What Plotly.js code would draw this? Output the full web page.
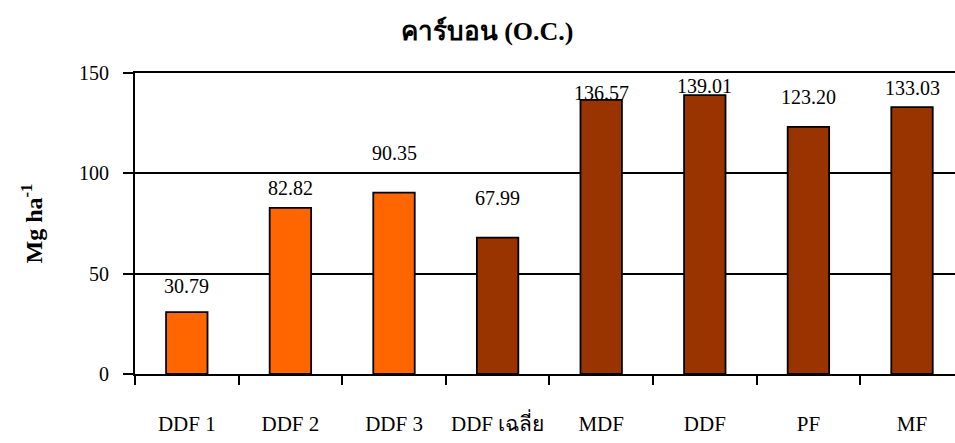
<!DOCTYPE html>
<html>
<head>
<meta charset="utf-8">
<script src="https://cdn.plot.ly/plotly-3.0.1.min.js"></script>
<style>html,body{margin:0;padding:0;background:#fff;}#chart{width:955px;height:443px;}</style>
</head>
<body>
<div id="chart"></div>
<script>
// ---- data ----
const categories = ["DDF 1", "DDF 2", "DDF 3", "DDF เฉลี่ย", "MDF", "DDF", "PF", "MF"];
const values = [30.79, 82.82, 90.35, 67.99, 136.57, 139.01, 123.20, 133.03];
const valueLabels = ["30.79", "82.82", "90.35", "67.99", "136.57", "139.01", "123.20", "133.03"];
const groups = ["DDF", "DDF", "DDF", "avg", "avg", "avg", "avg", "avg"];
const yTicks = [0, 50, 100, 150];

// ---- styles ----
const groupColor = {DDF: "#FF6600", avg: "#993300"};
const labelShift = [26, 20, 40, 40, 7, 9, 30, 19]; // px above bar top (label layout)
const serif = "'Liberation Serif', 'Times New Roman', serif";

const trace = {
  type: "bar",
  x: categories,
  y: values,
  width: 0.4,
  marker: {color: groups.map(g => groupColor[g]), line: {color: "#000", width: 1.8}},
  hoverinfo: "x+y"
};

const annotations = categories.map((c, i) => ({
  x: c, y: values[i], xref: "x", yref: "y",
  text: valueLabels[i], showarrow: false,
  yanchor: "middle", yshift: labelShift[i],
  font: {family: serif, size: 20, color: "#000"}
}));

const layout = {
  width: 955, height: 443,
  margin: {l: 135, r: 0, t: 73, b: 69},
  paper_bgcolor: "#fff", plot_bgcolor: "#fff",
  showlegend: false,
  title: {
    text: "<b>คาร์บอน (O.C.)</b>",
    x: 0.51, xanchor: "center", y: 0.93, yanchor: "middle",
    font: {family: serif, size: 26, color: "#000"}
  },
  xaxis: {
    type: "category",
    range: [-0.5, 7.415],
    tickson: "boundaries",
    ticks: "outside", ticklen: 9, tickwidth: 2, tickcolor: "#000",
    showline: true, linecolor: "#000", linewidth: 2, mirror: true,
    showgrid: false, zeroline: false,
    ticklabelstandoff: 30,
    tickfont: {family: serif, size: 21, color: "#000"},
    fixedrange: true
  },
  yaxis: {
    range: [0, 150],
    tickvals: yTicks,
    ticktext: yTicks.map(String),
    ticks: "outside", ticklen: 10, tickwidth: 2, tickcolor: "#000",
    showline: true, linecolor: "#000", linewidth: 2,
    showgrid: true, gridcolor: "#000", gridwidth: 2,
    zeroline: false,
    ticklabelstandoff: 10,
    tickfont: {family: serif, size: 20, color: "#000"},
    title: {text: "<b>Mg ha<sup>-1</sup></b>", standoff: 30, font: {family: serif, size: 24, color: "#000"}},
    automargin: false,
    fixedrange: true
  },
  annotations: annotations
};

Plotly.newPlot("chart", [trace], layout, {displayModeBar: false, staticPlot: true});
</script>
</body>
</html>
